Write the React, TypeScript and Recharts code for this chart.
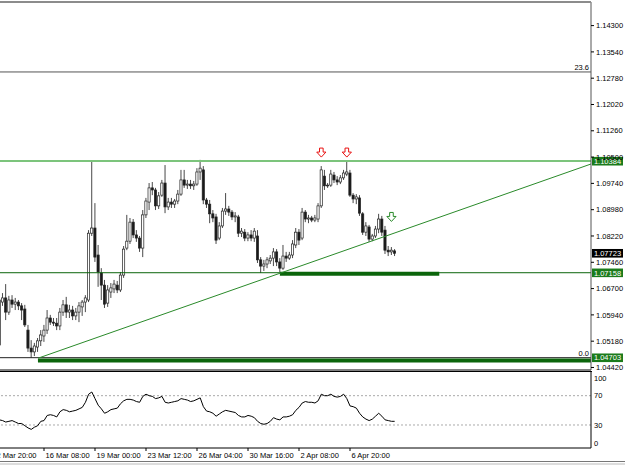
import React from 'react';
import {
  ComposedChart,
  Bar,
  Line,
  XAxis,
  YAxis,
  ReferenceLine,
  ReferenceDot,
} from 'recharts';

const FONT = "'Liberation Sans', Arial, sans-serif";

// bar index of the first visible candle (H4 bars, label every 16 bars)
const firstBar = 2;

const opens = [
  1.0507, 1.0631, 1.0643, 1.0602, 1.0637, 1.0625, 1.0631, 1.0620, 1.0611, 1.0550,
  1.0498, 1.0487, 1.0501, 1.0519, 1.0533, 1.0550, 1.0585, 1.0573, 1.0570, 1.0562,
  1.0602, 1.0623, 1.0602, 1.0608, 1.0591, 1.0602, 1.0617, 1.0631, 1.0637, 1.0830,
  1.0845, 1.0767, 1.0715, 1.0680, 1.0628, 1.0660, 1.0669, 1.0680, 1.0666, 1.0709,
  1.0787, 1.0807, 1.0862, 1.0825, 1.0816, 1.0787, 1.0883, 1.0920, 1.0961, 1.0955,
  1.0909, 1.0940, 1.0975, 1.0906, 1.0920, 1.0914, 1.0923, 1.0943, 1.0984, 1.0969,
  1.0972, 1.0967, 1.0972, 1.1007, 1.1013, 1.0926, 1.0914, 1.0886, 1.0877, 1.0816,
  1.0851, 1.0894, 1.0900, 1.0891, 1.0877, 1.0877, 1.0830, 1.0833, 1.0816, 1.0825,
  1.0816, 1.0822, 1.0753, 1.0735, 1.0741, 1.0750, 1.0758, 1.0776, 1.0747, 1.0729,
  1.0764, 1.0758, 1.0767, 1.0796, 1.0833, 1.0816, 1.0891, 1.0871, 1.0874, 1.0868,
  1.0871, 1.0909, 1.0995, 1.0967, 1.0969, 1.0998, 1.0984, 1.0978, 1.0990, 1.1001,
  1.1004, 1.0940, 1.0929, 1.0932, 1.0886, 1.0833, 1.0848, 1.0813, 1.0822, 1.0842,
  1.0871, 1.0839, 1.0781, 1.0776, 1.0779,
];

const highs = [
  1.0680, 1.0657, 1.0683, 1.0649, 1.0651, 1.0643, 1.0637, 1.0628, 1.0623, 1.0565,
  1.0521, 1.0513, 1.0527, 1.0550, 1.0565, 1.0608, 1.0594, 1.0585, 1.0585, 1.0614,
  1.0637, 1.0646, 1.0623, 1.0620, 1.0614, 1.0631, 1.0637, 1.0651, 1.0839, 1.1039,
  1.0917, 1.0796, 1.0729, 1.0695, 1.0680, 1.0686, 1.0695, 1.0692, 1.0718, 1.0793,
  1.0883, 1.0874, 1.0871, 1.0839, 1.0822, 1.0897, 1.0932, 1.0975, 1.0978, 1.0961,
  1.0949, 1.0984, 1.1027, 1.0932, 1.0932, 1.0929, 1.0955, 1.1013, 1.1013, 1.0984,
  1.0984, 1.0981, 1.1018, 1.1042, 1.1024, 1.0932, 1.0926, 1.0897, 1.0886, 1.0862,
  1.0903, 1.0946, 1.0909, 1.0897, 1.0891, 1.0883, 1.0845, 1.0842, 1.0833, 1.0839,
  1.0845, 1.0839, 1.0761, 1.0753, 1.0761, 1.0767, 1.0787, 1.0784, 1.0758, 1.0796,
  1.0776, 1.0776, 1.0810, 1.0845, 1.0842, 1.0903, 1.0897, 1.0883, 1.0880, 1.0883,
  1.0917, 1.1024, 1.1013, 1.0975, 1.1013, 1.1007, 1.0995, 1.0998, 1.1013, 1.1039,
  1.1013, 1.0946, 1.0943, 1.0940, 1.0891, 1.0862, 1.0854, 1.0828, 1.0851, 1.0886,
  1.0880, 1.0851, 1.0793, 1.0790, 1.0784,
];

const lows = [
  1.0492, 1.0620, 1.0579, 1.0594, 1.0614, 1.0608, 1.0608, 1.0579, 1.0559, 1.0487,
  1.0470, 1.0475, 1.0487, 1.0504, 1.0516, 1.0539, 1.0565, 1.0562, 1.0550, 1.0550,
  1.0591, 1.0585, 1.0585, 1.0579, 1.0579, 1.0573, 1.0591, 1.0602, 1.0631, 1.0822,
  1.0747, 1.0675, 1.0637, 1.0614, 1.0617, 1.0643, 1.0657, 1.0657, 1.0660, 1.0701,
  1.0781, 1.0799, 1.0816, 1.0805, 1.0776, 1.0761, 1.0874, 1.0897, 1.0940, 1.0897,
  1.0900, 1.0935, 1.0888, 1.0897, 1.0903, 1.0903, 1.0914, 1.0938, 1.0961, 1.0958,
  1.0958, 1.0955, 1.0967, 1.0984, 1.0914, 1.0903, 1.0859, 1.0862, 1.0799, 1.0810,
  1.0845, 1.0883, 1.0880, 1.0868, 1.0862, 1.0819, 1.0819, 1.0807, 1.0807, 1.0807,
  1.0805, 1.0744, 1.0715, 1.0721, 1.0729, 1.0741, 1.0735, 1.0735, 1.0718, 1.0724,
  1.0747, 1.0753, 1.0758, 1.0787, 1.0796, 1.0810, 1.0862, 1.0859, 1.0862, 1.0862,
  1.0862, 1.0903, 1.0955, 1.0961, 1.0964, 1.0975, 1.0969, 1.0972, 1.0984, 1.0995,
  1.0935, 1.0917, 1.0914, 1.0880, 1.0825, 1.0822, 1.0805, 1.0807, 1.0816, 1.0830,
  1.0822, 1.0770, 1.0764, 1.0767, 1.0764,
];

const closes = [
  1.0637, 1.0643, 1.0602, 1.0637, 1.0625, 1.0631, 1.0620, 1.0608, 1.0565, 1.0498,
  1.0487, 1.0504, 1.0519, 1.0536, 1.0550, 1.0585, 1.0573, 1.0570, 1.0562, 1.0602,
  1.0623, 1.0602, 1.0608, 1.0591, 1.0602, 1.0620, 1.0631, 1.0643, 1.0830, 1.0845,
  1.0761, 1.0718, 1.0680, 1.0625, 1.0666, 1.0672, 1.0683, 1.0666, 1.0709, 1.0784,
  1.0807, 1.0862, 1.0825, 1.0816, 1.0787, 1.0883, 1.0923, 1.0961, 1.0955, 1.0909,
  1.0938, 1.0975, 1.0906, 1.0920, 1.0914, 1.0923, 1.0943, 1.0984, 1.0969, 1.0972,
  1.0967, 1.0972, 1.1007, 1.1018, 1.0926, 1.0914, 1.0886, 1.0874, 1.0810, 1.0851,
  1.0894, 1.0900, 1.0891, 1.0877, 1.0880, 1.0830, 1.0836, 1.0816, 1.0825, 1.0816,
  1.0836, 1.0753, 1.0735, 1.0741, 1.0753, 1.0758, 1.0776, 1.0747, 1.0729, 1.0764,
  1.0758, 1.0767, 1.0799, 1.0833, 1.0810, 1.0891, 1.0871, 1.0874, 1.0868, 1.0874,
  1.0909, 1.1013, 1.0967, 1.0969, 1.1001, 1.0984, 1.0978, 1.0990, 1.1004, 1.1007,
  1.0940, 1.0929, 1.0935, 1.0888, 1.0833, 1.0851, 1.0813, 1.0822, 1.0842, 1.0871,
  1.0833, 1.0781, 1.0776, 1.0781, 1.0772,
];

const rsiValues = [
  37, 36, 34, 35, 36, 34, 32, 32, 29, 26,
  24, 27, 29, 35, 36, 43, 44, 43, 41, 48,
  51, 50, 48, 49, 50, 52, 54, 61, 72, 75,
  66, 57, 52, 46, 48, 51, 52, 53, 59, 63,
  65, 65, 64, 62, 61, 69, 72, 70, 69, 66,
  67, 69, 61, 60, 61, 62, 63, 66, 65, 64,
  62, 63, 65, 67, 55, 49, 48, 46, 42, 45,
  48, 50, 49, 48, 47, 43, 41, 41, 43, 42,
  40, 35, 32, 31, 32, 35, 40, 38, 37, 41,
  41, 42, 44, 50, 54, 60, 62, 61, 61, 60,
  63, 72, 70, 70, 72, 69, 68, 69, 72, 66,
  56, 55, 53, 46, 41, 38, 36, 38, 42, 46,
  42, 37, 36, 35, 35,
];

// the leftmost label sits on the first visible bar, the rest every 16 bars
const timeTicks = [-0.7, 16, 32, 48, 64, 80, 96, 112];
const timeLabels = [
  '12 Mar 20:00', '16 Mar 08:00', '19 Mar 00:00', '23 Mar 12:00',
  '26 Mar 04:00', '30 Mar 16:00', '2 Apr 08:00', '6 Apr 20:00',
];
const priceTicks = [
  1.0442, 1.0518, 1.0594, 1.067, 1.0746, 1.0822, 1.0898,
  1.0974, 1.105, 1.1126, 1.1202, 1.1278, 1.1354, 1.143,
];
const rsiTicks = [0, 30, 70, 100];

// horizontal levels and objects
const resistance = 1.10384;
const support = 1.07158;
const fibZero = 1.04703;
const fib236 = 1.1296;
const lastPrice = 1.07723;
const trendStart = { x: 14.2, y: 1.0469 };
const trendEnd = { x: 187.6, y: 1.103 };
const supportBar = { from: 90, to: 140, y: 1.0713 };
const bottomBar = { from: 14.1, y: 1.0462 };
const redArrows = [{ x: 103, y: 1.1063 }, { x: 111, y: 1.1063 }];
const greenArrow = { x: 125, y: 1.0877 };

const xDomain: [number, number] = [2.196, 187.6];
const priceDomain: [number, number] = [1.04347, 1.14982];
const rsiDomain: [number, number] = [-1.4, 102.3];

const bars = opens.map((open, k) => ({
  i: firstBar + k,
  open,
  high: highs[k],
  low: lows[k],
  close: closes[k],
  rsi: rsiValues[k],
}));

const Candle = (props: any) => {
  const { x, y, width, height, payload } = props;
  if (!payload || x == null || y == null) return null;
  const top = Math.min(y, y + height);
  const h = Math.abs(height);
  const range = payload.high - payload.low;
  const k = range > 0 ? h / range : 0;
  const cx = x + width / 2;
  const yO = top + (payload.high - payload.open) * k;
  const yC = top + (payload.high - payload.close) * k;
  const bull = payload.close >= payload.open;
  const bTop = Math.min(yO, yC);
  const bH = Math.max(Math.abs(yC - yO), 0.8);
  return (
    <g>
      <line x1={cx} x2={cx} y1={top} y2={top + h} stroke="#333" strokeWidth={0.9} />
      <rect
        x={cx - 1.1}
        y={bTop}
        width={2.2}
        height={bH}
        fill={bull ? '#fff' : '#1a1a1a'}
        stroke="#222"
        strokeWidth={0.7}
      />
    </g>
  );
};

const DownArrow = ({ cx, cy, color }: any) => (
  <path
    d={`M${cx - 1.8},${cy - 4.5} h3.6 v4 h2.8 L${cx},${cy + 4.5} L${cx - 4.6},${cy - 0.5} h2.8 Z`}
    fill="#fff"
    stroke={color}
    strokeWidth={1}
  />
);

function priceBox(text: string, bg: string) {
  return (props: any) => {
    const vb = props.viewBox || {};
    const x = (vb.x ?? 0) + (vb.width ?? 0) + 1;
    const y = vb.y ?? 0;
    return (
      <g>
        <rect x={x} y={y - 4.2} width={31} height={8.6} fill={bg} />
        <text
          x={x + 15.5}
          y={y + 2.8}
          textAnchor="middle"
          fontSize={7.5}
          fontFamily={FONT}
          fill="#fff"
        >
          {text}
        </text>
      </g>
    );
  };
}

function levelText(text: string) {
  return (props: any) => {
    const vb = props.viewBox || {};
    return (
      <text
        x={(vb.x ?? 0) + (vb.width ?? 0) - 2}
        y={(vb.y ?? 0) - 2}
        textAnchor="end"
        fontSize={7.5}
        fontFamily={FONT}
        fill="#000"
      >
        {text}
      </text>
    );
  };
}

const TimeTick = (props: any) => {
  const { x, y, payload } = props;
  const idx = timeTicks.indexOf(payload.value);
  return (
    <text x={x + 1.5} y={y + 7} textAnchor="start" fontSize={7.5} fontFamily={FONT} fill="#000">
      {timeLabels[idx]}
    </text>
  );
};

// MT4 keeps the extreme oscillator labels inside the pane
const RsiTick = (props: any) => {
  const { x, y, payload } = props;
  const yy = Math.min(Math.max(y, 6), 71);
  return (
    <text x={x} y={yy + 2.7} textAnchor="start" fontSize={7.5} fontFamily={FONT} fill="#000">
      {payload.value}
    </text>
  );
};

const App: React.FC = () => {
  return (
    <div
      style={{
        position: 'absolute',
        left: 0,
        top: 0,
        width: 625,
        height: 465,
        background: '#fff',
        overflow: 'hidden',
        fontFamily: FONT,
      }}
    >
      <div style={{ position: 'absolute', left: 0, top: 0 }}>
        <ComposedChart
          width={625}
          height={371}
          data={bars}
          margin={{ top: 2, right: 0, bottom: 0, left: 0 }}
        >
          <XAxis
            dataKey="i"
            type="number"
            domain={xDomain}
            allowDataOverflow
            height={1}
            tick={false}
            tickLine={false}
            axisLine={{ stroke: '#000' }}
          />
          <YAxis
            orientation="right"
            width={34}
            domain={priceDomain}
            allowDataOverflow
            ticks={priceTicks}
            interval={0}
            tickFormatter={(v: number) => v.toFixed(5)}
            tick={{ fontSize: 7.5, fill: '#000', fontFamily: FONT }}
            tickSize={3}
            tickMargin={2}
            tickLine={{ stroke: '#000' }}
            axisLine={{ stroke: '#555' }}
          />
          <ReferenceLine y={fib236} stroke="#555" strokeWidth={1} label={levelText('23.6')} />
          <ReferenceLine y={resistance} stroke="#7cc47c" strokeWidth={2} label={priceBox('1.10384', '#1b7b1b')} />
          <ReferenceLine y={support} stroke="#0b650b" strokeWidth={1} label={priceBox('1.07158', '#1b7b1b')} />
          <ReferenceLine y={fibZero} stroke="#222" strokeWidth={1} label={levelText('0.0')} />
          <ReferenceLine y={fibZero} stroke="none" label={priceBox('1.04703', '#1b7b1b')} />
          <ReferenceLine y={lastPrice} stroke="none" label={priceBox('1.07723', '#000')} />
          <ReferenceLine
            segment={[{ x: supportBar.from, y: supportBar.y }, { x: supportBar.to, y: supportBar.y }]}
            stroke="#0b650b"
            strokeWidth={4}
          />
          <ReferenceLine
            segment={[{ x: bottomBar.from, y: bottomBar.y }, { x: xDomain[1], y: bottomBar.y }]}
            stroke="#0b650b"
            strokeWidth={4}
          />
          <ReferenceLine segment={[trendStart, trendEnd]} stroke="#2a8a2a" strokeWidth={1} />
          <Bar
            dataKey={(d: any) => [d.low, d.high]}
            barSize={3}
            shape={Candle}
            isAnimationActive={false}
          />
          {redArrows.map((a, n) => (
            <ReferenceDot
              key={n}
              x={a.x}
              y={a.y}
              r={5}
              shape={(p: any) => <DownArrow cx={p.cx} cy={p.cy} color="#e81010" />}
            />
          ))}
          <ReferenceDot
            x={greenArrow.x}
            y={greenArrow.y}
            r={5}
            shape={(p: any) => <DownArrow cx={p.cx} cy={p.cy} color="#2a8a2a" />}
          />
        </ComposedChart>
      </div>

      <div style={{ position: 'absolute', left: 0, top: 1, width: 591, height: 1.6, background: '#8c8c8c' }} />
      <div style={{ position: 'absolute', left: 0, top: 371, width: 592, height: 1, background: '#000' }} />

      <div style={{ position: 'absolute', left: 0, top: 372 }}>
        <ComposedChart
          width={625}
          height={93}
          data={bars}
          margin={{ top: 0, right: 0, bottom: 0, left: 0 }}
        >
          <XAxis
            dataKey="i"
            type="number"
            domain={xDomain}
            allowDataOverflow
            ticks={timeTicks}
            interval={0}
            height={17}
            tick={TimeTick}
            tickSize={3}
            tickMargin={0}
            tickLine={{ stroke: '#000' }}
            axisLine={{ stroke: '#000' }}
          />
          <YAxis
            orientation="right"
            width={34}
            domain={rsiDomain}
            allowDataOverflow
            ticks={rsiTicks}
            interval={0}
            tick={RsiTick}
            tickSize={0}
            tickMargin={3}
            tickLine={false}
            axisLine={{ stroke: '#000' }}
          />
          <ReferenceLine y={70} stroke="#aaa" strokeDasharray="2 2" />
          <ReferenceLine y={30} stroke="#aaa" strokeDasharray="2 2" />
          <Line
            dataKey="rsi"
            type="linear"
            stroke="#000"
            strokeWidth={1}
            dot={false}
            isAnimationActive={false}
          />
        </ComposedChart>
      </div>

      <div style={{ position: 'absolute', left: 0, top: 461, width: 625, height: 1, background: '#777' }} />
      <div style={{ position: 'absolute', left: 0, top: 463, width: 625, height: 2, background: '#ddd' }} />
    </div>
  );
};

export default App;
